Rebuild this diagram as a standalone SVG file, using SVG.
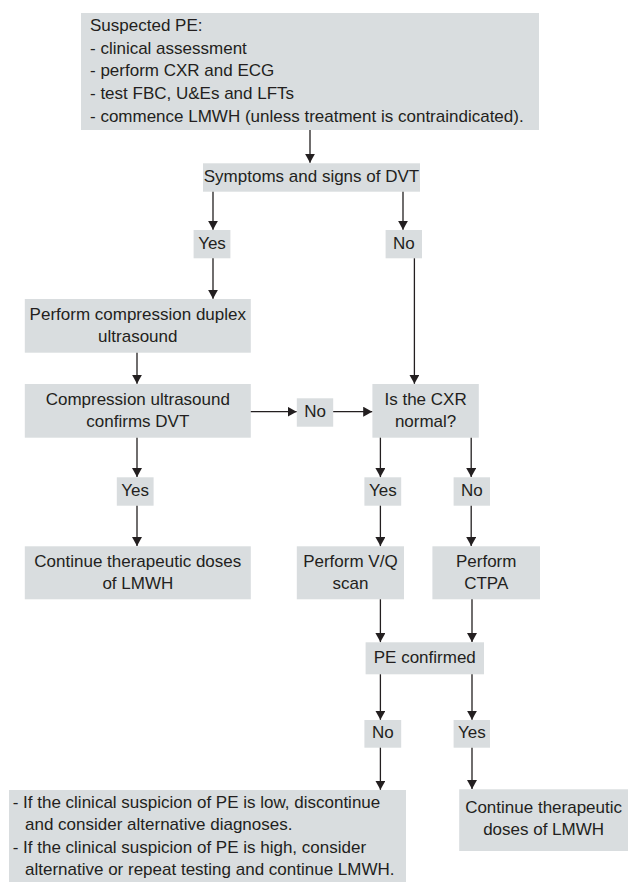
<svg xmlns="http://www.w3.org/2000/svg" width="628" height="882" viewBox="0 0 628 882">
<style>
rect.b{fill:#d9dddf}
text{font-family:"Liberation Sans",Arial,sans-serif;font-size:17px;fill:#231f20}
text.c{text-anchor:middle}
#connectors path{fill:none;stroke:#231f20;stroke-width:1.3;marker-end:url(#ah)}
</style>
<defs>
<marker id="ah" markerWidth="10" markerHeight="10" refX="9" refY="5" orient="auto" markerUnits="userSpaceOnUse"><path d="M0,0 L9,5 L0,10 Z" fill="#231f20"/></marker>
</defs>
<rect width="628" height="882" fill="#ffffff"/>
<g id="n-suspected">
<rect class="b" x="81" y="13" width="458" height="117"/>
<text x="90" y="30.7">Suspected PE:</text>
<text x="90" y="53.5">- clinical assessment</text>
<text x="90" y="76.2">- perform CXR and ECG</text>
<text x="90" y="99">- test FBC, U&amp;Es and LFTs</text>
<text x="90" y="121.7">- commence LMWH (unless treatment is contraindicated).</text>
</g>
<g id="n-symptoms">
<rect class="b" x="203" y="163.3" width="217" height="28.4"/>
<text class="c" x="311.5" y="181.7">Symptoms and signs of DVT</text>
</g>
<g id="n-yes1">
<rect class="b" x="193.6" y="230" width="36.8" height="28.3"/>
<text class="c" x="212" y="249">Yes</text>
</g>
<g id="n-no1">
<rect class="b" x="385.6" y="230" width="36.4" height="28.3"/>
<text class="c" x="403.8" y="249">No</text>
</g>
<g id="n-duplex">
<rect class="b" x="24.8" y="299" width="226" height="53.7"/>
<text class="c" x="137.8" y="320">Perform compression duplex</text>
<text class="c" x="137.8" y="341.7">ultrasound</text>
</g>
<g id="n-cus">
<rect class="b" x="24.8" y="384" width="226" height="53.7"/>
<text class="c" x="137.8" y="405">Compression ultrasound</text>
<text class="c" x="137.8" y="426.7">confirms DVT</text>
</g>
<g id="n-no2">
<rect class="b" x="296.8" y="398.3" width="36.4" height="28.4"/>
<text class="c" x="315" y="417.3">No</text>
</g>
<g id="n-cxr">
<rect class="b" x="372.4" y="384" width="106.4" height="53.7"/>
<text class="c" x="425.6" y="405">Is the CXR</text>
<text class="c" x="425.6" y="426.7">normal?</text>
</g>
<g id="n-yes2">
<rect class="b" x="116.8" y="477.3" width="36.8" height="28.4"/>
<text class="c" x="135.2" y="496">Yes</text>
</g>
<g id="n-yes3">
<rect class="b" x="364.4" y="477.3" width="36.8" height="28.4"/>
<text class="c" x="382.8" y="496">Yes</text>
</g>
<g id="n-no3">
<rect class="b" x="453.6" y="477.3" width="36.4" height="28.4"/>
<text class="c" x="471.8" y="496">No</text>
</g>
<g id="n-continue1">
<rect class="b" x="24.8" y="546.3" width="226" height="53"/>
<text class="c" x="137.8" y="566.7">Continue therapeutic doses</text>
<text class="c" x="137.8" y="589.3">of LMWH</text>
</g>
<g id="n-vq">
<rect class="b" x="296.8" y="546.3" width="107.2" height="53"/>
<text class="c" x="350.4" y="566.7">Perform V/Q</text>
<text class="c" x="350.4" y="589.3">scan</text>
</g>
<g id="n-ctpa">
<rect class="b" x="432.4" y="546.3" width="107.6" height="53"/>
<text class="c" x="486.2" y="566.7">Perform</text>
<text class="c" x="486.2" y="589.3">CTPA</text>
</g>
<g id="n-peconf">
<rect class="b" x="365.6" y="642.3" width="118.4" height="32"/>
<text class="c" x="424.8" y="662.7">PE confirmed</text>
</g>
<g id="n-no4">
<rect class="b" x="364.4" y="720" width="36.8" height="27.7"/>
<text class="c" x="382.8" y="738">No</text>
</g>
<g id="n-yes4">
<rect class="b" x="453.6" y="720" width="36.4" height="27.7"/>
<text class="c" x="471.8" y="738">Yes</text>
</g>
<g id="n-suspicion">
<rect class="b" x="9" y="790" width="397" height="92"/>
<text x="12.7" y="808">- If the clinical suspicion of PE is low, discontinue</text>
<text x="25" y="830.3">and consider alternative diagnoses.</text>
<text x="12.7" y="852.6">- If the clinical suspicion of PE is high, consider</text>
<text x="25" y="875">alternative or repeat testing and continue LMWH.</text>
</g>
<g id="n-continue2">
<rect class="b" x="459.2" y="789.3" width="168.8" height="61.7"/>
<text class="c" x="543.6" y="813.3">Continue therapeutic</text>
<text class="c" x="543.6" y="835.3">doses of LMWH</text>
</g>
<g id="connectors">
<path d="M310,130 V162.8"/>
<path d="M213,191.7 V229.8"/>
<path d="M403,191.7 V229.8"/>
<path d="M213,258.3 V298.8"/>
<path d="M414.4,258.3 V383.8"/>
<path d="M137,352.7 V383.8"/>
<path d="M250.8,411.7 H296.6"/>
<path d="M333.2,411.7 H372.2"/>
<path d="M137,437.7 V477.1"/>
<path d="M380.4,437.7 V477.1"/>
<path d="M471.2,437.7 V477.1"/>
<path d="M137,505.7 V546.1"/>
<path d="M380.4,505.7 V546.1"/>
<path d="M471.2,505.7 V546.1"/>
<path d="M380.4,599.3 V642.1"/>
<path d="M472,599.3 V642.1"/>
<path d="M380.4,674.3 V719.8"/>
<path d="M472,674.3 V719.8"/>
<path d="M380.4,747.7 V789.8"/>
<path d="M472,747.7 V789.1"/>
</g>
</svg>
